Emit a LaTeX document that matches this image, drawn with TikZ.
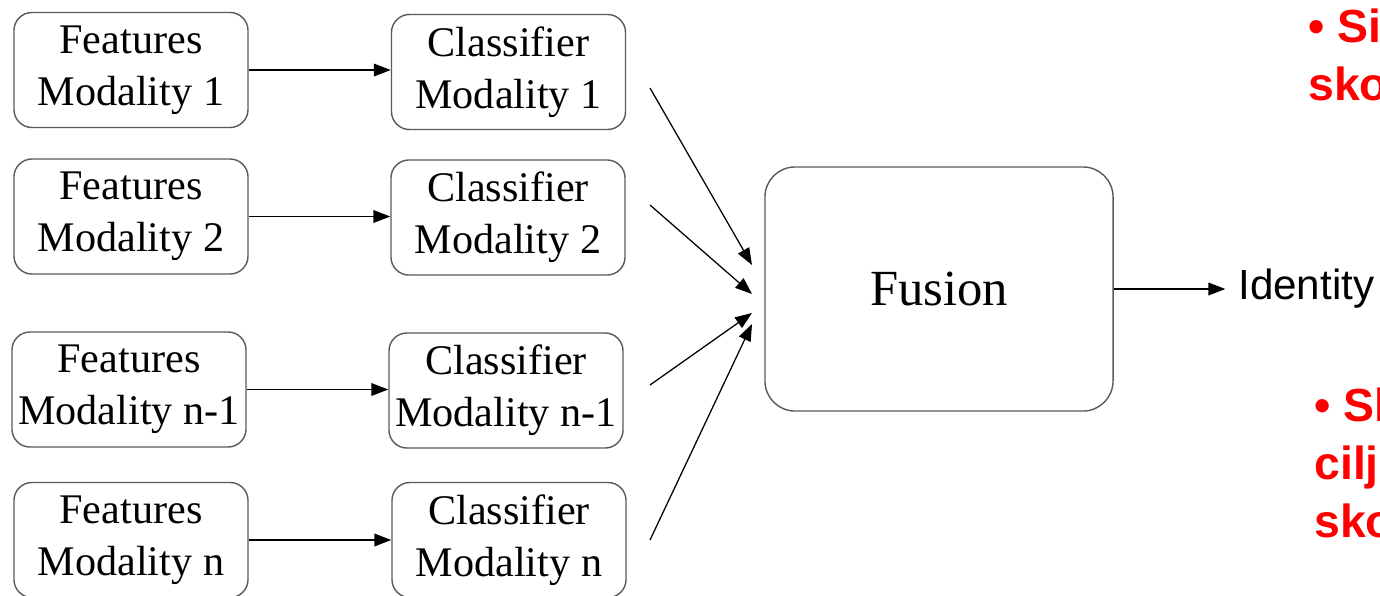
\documentclass[tikz,border=0pt]{standalone}
\usepackage{fontspec}
\setmainfont{Liberation Serif}
\newfontfamily\arialfont{Liberation Sans}
\usepackage{tikz}
\usetikzlibrary{shapes,arrows,arrows.meta,positioning,calc}
\usepackage{xcolor}
\definecolor{boxline}{RGB}{90,90,90}
\definecolor{notered}{RGB}{255,0,0}

\tikzset{
  modbox/.style={draw=boxline,line width=1pt,rounded corners=0.45cm,
    minimum width=5.85cm,minimum height=2.875cm,inner sep=0pt,align=center,
    font=\fontsize{30}{37}\selectfont},
  fusebox/.style={draw=boxline,line width=1pt,rounded corners=0.75cm,
    minimum width=8.7cm,minimum height=6.1cm,inner sep=0pt,
    font=\fontsize{36}{42}\selectfont},
  flow/.style={line width=0.9pt,-{Triangle[length=12pt,width=9pt]}},
  note/.style={text=notered,align=left,inner sep=0pt,anchor=base west,
    font=\arialfont\bfseries\fontsize{33}{41}\selectfont}
}

\begin{document}
\begin{tikzpicture}[x=0.025cm,y=-0.025cm]
\useasboundingbox (0,0) rectangle (1380,595);
% feature boxes
\node[modbox] (f1) at (131,70) {Features\\Modality 1};
\node[modbox] (f2) at (131,216.5) {Features\\Modality 2};
\node[modbox] (f3) at (129,389.5) {Features\\Modality n-1};
\node[modbox] (f4) at (131,540) {Features\\Modality n};
% classifier boxes
\node[modbox] (c1) at (508.5,72) {Classifier\\Modality 1};
\node[modbox] (c2) at (508,217.5) {Classifier\\Modality 2};
\node[modbox] (c3) at (506,390.5) {Classifier\\Modality n-1};
\node[modbox] (c4) at (509,540) {Classifier\\Modality n};
% fusion and output
\node[fusebox] (fusion) at (939,289) {Fusion};
\node[anchor=west,inner sep=0pt,font=\arialfont\fontsize{30}{36}\selectfont] (identity) at (1238,289) {Identity};
% notes on the right (base = last line)
\node[note] (note1) at (1308,100) {\textbullet\ Si\\sko};
\node[note] (note2) at (1314,537) {\textbullet\ Sl\\cilj\\sko};
% arrows features -> classifier
\foreach \i in {1,...,4}
  \draw[flow] (f\i.east) -- (f\i.east -| c\i.west);
% arrows classifier -> fusion
\coordinate (s1) at (650,88);
\coordinate (s2) at (650,205);
\coordinate (s3) at (650,385);
\coordinate (s4) at (650,540);
\coordinate (t1) at (752,265);
\coordinate (t2) at (752,294);
\coordinate (t3) at (752,313);
\coordinate (t4) at (752,324);
\foreach \i in {1,...,4}
  \draw[flow] (s\i) -- (t\i);
\draw[flow,shorten >=9pt] (fusion.east) -- (identity.west);
\end{tikzpicture}
\end{document}
